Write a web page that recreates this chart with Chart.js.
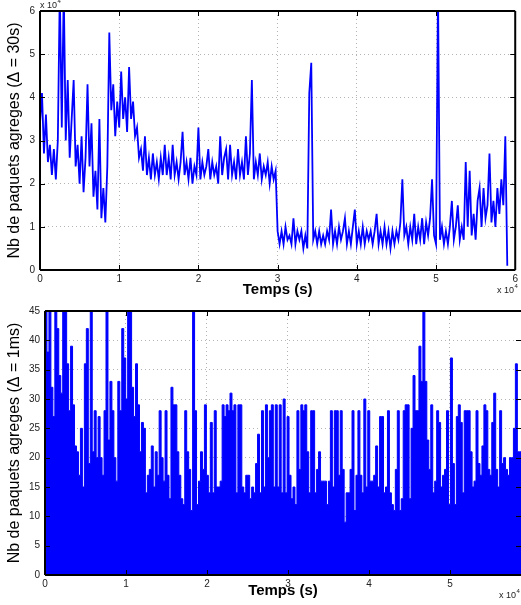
<!DOCTYPE html>
<html>
<head>
<meta charset="utf-8">
<script src="https://cdn.jsdelivr.net/npm/chart.js@4/dist/chart.umd.min.js"></script>
<style>
    html, body { margin: 0; padding: 0; background: #fff; overflow: hidden; }
    #wrap { position: relative; width: 521px; height: 605px; }
    canvas { position: absolute; left: 0; }
    #chart-top { top: 0; }
    #chart-bottom { top: 300px; }
</style>
</head>
<body>
<div id="wrap">
    <canvas id="chart-top" width="521" height="300"></canvas>
    <canvas id="chart-bottom" width="521" height="305"></canvas>
</div>
<script>
// Top panel: aggregated packets per 30s bin (units of 10^4), one value every 250 s
const TOP_STEP = 0.025;          // x units are 10^4 s
const aggTop = [
    3.4, 4.1, 2.7, 3.6, 2.5, 2.9, 2.2, 2.8, 2.1, 3.0,
    6.5, 3.3, 6.5, 3.0, 4.4, 2.6, 3.5, 4.4, 2.4, 2.9,
    2.0, 3.1, 1.8, 2.6, 4.3, 2.4, 3.4, 1.7, 2.3, 1.4,
    3.5, 1.2, 1.9, 1.1, 2.4, 5.5, 3.7, 4.3, 3.1, 3.9,
    3.3, 4.6, 3.5, 4.0, 3.2, 4.7, 3.5, 3.9, 3.1, 3.3,
    2.6, 2.8, 2.3, 3.1, 2.2, 2.6, 2.1, 2.7, 2.2, 2.5,
    2.1, 2.6, 2.2, 2.9, 2.2, 2.6, 2.1, 2.9, 2.2, 2.5,
    2.1, 2.5, 3.2, 2.2, 2.5, 2.1, 2.6, 2.0, 2.4, 2.2,
    3.3, 2.1, 2.5, 2.2, 2.4, 2.8, 2.1, 2.5, 2.2, 2.4,
    2.0, 3.1, 2.2, 2.6, 2.8, 2.1, 2.9, 2.2, 2.5, 2.1,
    2.8, 2.2, 2.5, 2.1, 3.1, 2.2, 2.7, 4.4, 2.1, 2.5,
    2.2, 2.7, 2.1, 2.4, 2.2, 2.5, 2.0, 2.4, 2.1, 2.3,
    0.9, 0.6, 0.9, 0.6, 1.0, 0.7, 0.8, 0.6, 1.2, 0.6,
    0.9, 0.7, 0.9, 0.5, 0.8, 0.5, 4.1, 4.8, 0.7, 0.9,
    0.6, 0.9, 0.6, 0.8, 0.6, 0.9, 0.7, 1.4, 0.6, 0.9,
    0.6, 1.0, 0.7, 0.9, 1.2, 0.6, 0.9, 0.6, 1.0, 1.4,
    0.6, 0.9, 0.6, 1.0, 0.6, 0.9, 0.7, 0.9, 0.6, 0.9,
    1.3, 0.6, 0.9, 0.6, 1.0, 0.6, 0.9, 0.5, 0.9, 0.6,
    0.9, 0.7, 1.1, 2.1, 0.8, 1.0, 0.6, 1.0, 0.7, 1.3,
    0.6, 1.0, 0.7, 1.2, 0.6, 1.1, 0.8, 1.2, 2.1, 0.8,
    0.6, 6.5, 0.7, 1.0, 0.6, 0.9, 0.6, 1.0, 1.6, 0.7,
    1.0, 1.5, 0.7, 1.0, 0.7, 2.5, 1.0, 2.3, 0.8, 1.3,
    0.7, 1.6, 1.9, 1.0, 1.9, 1.2, 1.5, 2.7, 1.1, 1.6,
    1.0, 1.9, 1.3, 2.1, 1.5, 3.1, 0.1
];

// Bottom panel: peak packets per 1ms bin, one value every ~243 s
const BOTTOM_STEP = 0.0243;
const BOTTOM_MAX = 5.877;
const aggBottom = [
    22, 45, 38, 45, 32, 27, 45, 42, 34, 31,
    45, 45, 36, 28, 39, 29, 22, 21, 17, 25,
    15, 36, 42, 19, 45, 21, 28, 20, 27, 20,
    17, 28, 45, 23, 33, 28, 20, 16, 33, 28,
    42, 37, 30, 45, 45, 32, 27, 36, 29, 21,
    26, 25, 14, 17, 18, 22, 15, 21, 17, 28,
    20, 16, 28, 17, 13, 32, 29, 29, 21, 17,
    13, 12, 28, 21, 18, 11, 45, 28, 12, 16,
    21, 18, 29, 17, 14, 26, 14, 28, 15, 15,
    16, 29, 27, 29, 28, 31, 28, 29, 14, 29,
    29, 15, 14, 17, 17, 13, 15, 14, 19, 24,
    14, 28, 15, 29, 20, 28, 29, 15, 29, 15,
    29, 14, 30, 14, 27, 17, 13, 15, 12, 28,
    18, 29, 28, 29, 21, 14, 28, 28, 14, 18,
    21, 16, 16, 16, 12, 16, 28, 15, 28, 28,
    17, 28, 18, 9, 14, 14, 18, 28, 11, 17,
    28, 17, 14, 30, 15, 28, 16, 16, 17, 22,
    15, 27, 27, 14, 15, 28, 14, 12, 11, 18,
    28, 11, 13, 28, 29, 29, 13, 25, 34, 28,
    28, 39, 33, 45, 33, 23, 18, 29, 14, 16,
    28, 26, 15, 17, 18, 28, 12, 37, 19, 12,
    27, 29, 26, 14, 28, 28, 28, 21, 15, 16,
    28, 19, 17, 22, 29, 28, 18, 17, 26, 31,
    18, 15, 28, 19, 20, 18, 17, 20, 20, 25,
    36, 21
];

const xTicksTop = [0, 1, 2, 3, 4, 5, 6];
const yTicksTop = [0, 1, 2, 3, 4, 5, 6];
const xTicksBottom = [0, 1, 2, 3, 4, 5];
const yTicksBottom = [0, 5, 10, 15, 20, 25, 30, 35, 40, 45];

const BLUE = '#0000ff';
Chart.defaults.font.family = '"Liberation Sans", Arial, Helvetica, sans-serif';

// Draws the MATLAB-like box, inward tick marks and the "x 10^4" multipliers
const framePlugin = {
    id: 'frame',
    afterDraw(chart, args, opts) {
        const { ctx, chartArea: a, scales } = chart;
        ctx.save();
        ctx.strokeStyle = '#000';
        ctx.lineWidth = 1;
        ctx.beginPath();
        scales.x.ticks.forEach(t => {
            const px = Math.round(scales.x.getPixelForValue(t.value)) + 0.5;
            ctx.moveTo(px, a.bottom); ctx.lineTo(px, a.bottom - 5);
            ctx.moveTo(px, a.top); ctx.lineTo(px, a.top + 5);
        });
        scales.y.ticks.forEach(t => {
            const py = Math.round(scales.y.getPixelForValue(t.value)) + 0.5;
            ctx.moveTo(a.left, py); ctx.lineTo(a.left + 5, py);
            ctx.moveTo(a.right, py); ctx.lineTo(a.right - 5, py);
        });
        ctx.stroke();

        ctx.lineWidth = 2;
        ctx.beginPath();
        ctx.moveTo(a.left, a.top); ctx.lineTo(a.right, a.top);
        ctx.moveTo(a.left, a.top); ctx.lineTo(a.left, a.bottom);
        ctx.moveTo(a.left, a.bottom); ctx.lineTo(a.right, a.bottom);
        if (opts.rightBorder) { ctx.moveTo(a.right, a.top); ctx.lineTo(a.right, a.bottom); }
        ctx.stroke();

        ctx.fillStyle = '#222';
        (opts.multipliers || []).forEach(m => {
            ctx.font = '9px "Liberation Sans", Arial, sans-serif';
            ctx.textBaseline = 'alphabetic';
            ctx.fillText('x 10', m.x, m.y);
            const w = ctx.measureText('x 10').width;
            ctx.font = '6px "Liberation Sans", Arial, sans-serif';
            ctx.fillText('4', m.x + w + 0.5, m.y - 5);
        });
        ctx.restore();
    }
};

function axisOptions(min, max, ticks, width, height, pad, title, titlePad, isY) {
    return {
        type: 'linear',
        min: min,
        max: max,
        afterBuildTicks: scale => { scale.ticks = ticks.map(v => ({ value: v })); },
        ticks: { color: '#222', font: { size: 10 }, padding: pad, maxRotation: 0, autoSkip: false },
        grid: { color: '#b4b4b4', drawTicks: false, lineWidth: 1 },
        border: { display: false, dash: [1, 3] },
        title: { display: true, text: title, color: '#000',
                 font: { size: isY ? 16 : 15, weight: isY ? 'normal' : 'bold' },
                 padding: titlePad },
        afterFit: scale => { if (isY) scale.width = width; else scale.height = height; }
    };
}

new Chart(document.getElementById('chart-top'), {
    type: 'line',
    data: {
        datasets: [{
            data: aggTop.map((v, i) => ({ x: i * TOP_STEP, y: v })),
            borderColor: BLUE,
            borderWidth: 1.8,
            pointRadius: 0,
            fill: false,
            tension: 0
        }]
    },
    options: {
        responsive: false,
        animation: false,
        events: [],
        layout: { padding: { top: 10, right: 4, left: 0, bottom: 0 } },
        plugins: {
            legend: { display: false },
            tooltip: { enabled: false },
            frame: {
                rightBorder: true,
                multipliers: [{ x: 40, y: 8 }, { x: 497, y: 293 }]
            }
        },
        scales: {
            x: axisOptions(0, 6, xTicksTop, 0, 30, 3, 'Temps (s)', { top: 0, bottom: 1 }, false),
            y: axisOptions(0, 6, yTicksTop, 40, 0, 5, 'Nb de paquets agreges (\u0394 = 30s)', { top: 5, bottom: 0 }, true)
        }
    },
    plugins: [framePlugin]
});

const bottomPoints = aggBottom.map((v, i) => ({ x: i * BOTTOM_STEP, y: v }));
bottomPoints.push({ x: BOTTOM_MAX, y: aggBottom[aggBottom.length - 1] });

new Chart(document.getElementById('chart-bottom'), {
    type: 'line',
    data: {
        datasets: [{
            data: bottomPoints,
            borderColor: BLUE,
            backgroundColor: BLUE,
            borderWidth: 1,
            pointRadius: 0,
            stepped: 'after',
            fill: 'origin'
        }]
    },
    options: {
        responsive: false,
        animation: false,
        events: [],
        layout: { padding: { top: 7, right: 0, left: 0, bottom: 0 } },
        plugins: {
            legend: { display: false },
            tooltip: { enabled: false },
            frame: {
                rightBorder: false,
                multipliers: [{ x: 499, y: 298 }]
            }
        },
        scales: {
            x: axisOptions(0, BOTTOM_MAX, xTicksBottom, 0, 30, 3, 'Temps (s)', { top: 0, bottom: 5 }, false),
            y: axisOptions(0, 45, yTicksBottom, 45, 0, 5, 'Nb de paquets agreges (\u0394 = 1ms)', { top: 5, bottom: 0 }, true)
        }
    },
    plugins: [framePlugin]
});
</script>
</body>
</html>
